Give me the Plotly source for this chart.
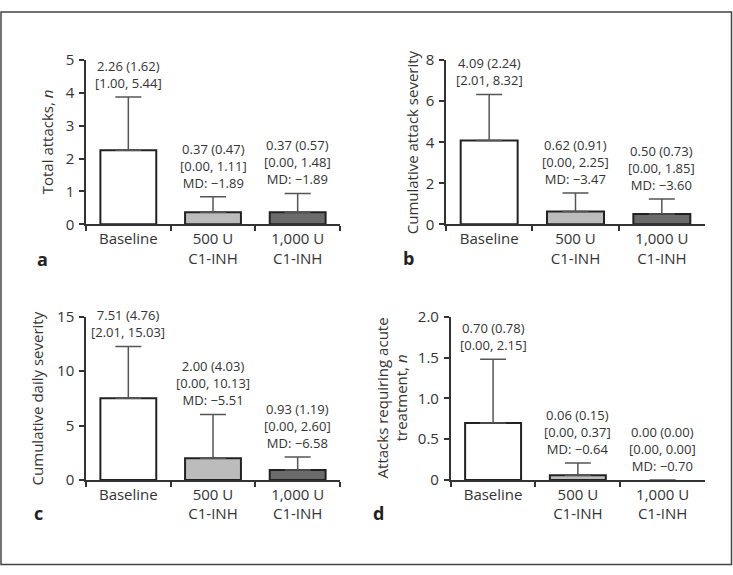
import plotly.graph_objects as go

W, H = 733, 575

categories = ["Baseline", "500 U<br>C1-INH", "1,000 U<br>C1-INH"]

attacks_mean = [2.26, 0.37, 0.37]
attacks_sd = [1.62, 0.47, 0.57]
attacks_range = ["[1.00, 5.44]", "[0.00, 1.11]", "[0.00, 1.48]"]
attacks_md = [None, "−1.89", "−1.89"]

severity_mean = [4.09, 0.62, 0.50]
severity_sd = [2.24, 0.91, 0.73]
severity_range = ["[2.01, 8.32]", "[0.00, 2.25]", "[0.00, 1.85]"]
severity_md = [None, "−3.47", "−3.60"]

daily_mean = [7.51, 2.00, 0.93]
daily_sd = [4.76, 4.03, 1.19]
daily_range = ["[2.01, 15.03]", "[0.00, 10.13]", "[0.00, 2.60]"]
daily_md = [None, "−5.51", "−6.58"]

acute_mean = [0.70, 0.06, 0.00]
acute_sd = [0.78, 0.15, 0.00]
acute_range = ["[0.00, 2.15]", "[0.00, 0.37]", "[0.00, 0.00]"]
acute_md = [None, "−0.64", "−0.70"]

bar_colors = ["#ffffff", "#bcbcbc", "#6b6b6b"]
FONT = "Open Sans"
TXT = "#333333"


def px_x(p):
    return p / W


def px_y(p):
    return (H - p) / H


panels = [
    dict(mean=attacks_mean, sd=attacks_sd, rng=attacks_range, md=attacks_md,
         xd=[px_x(86), px_x(340)], yd=[px_y(221), px_y(51)], yr=[0, 5],
         tickvals=[0, 1, 2, 3, 4, 5], ticktext=["0", "1", "2", "3", "4", "5"],
         title="Total attacks, <i>n</i>", tx=47, letter="a", lx=42, ly=257),
    dict(mean=severity_mean, sd=severity_sd, rng=severity_range, md=severity_md,
         xd=[px_x(446), px_x(705)], yd=[px_y(221), px_y(51)], yr=[0, 8],
         tickvals=[0, 2, 4, 6, 8], ticktext=["0", "2", "4", "6", "8"],
         title="Cumulative attack severity", tx=412, letter="b", lx=408, ly=256),
    dict(mean=daily_mean, sd=daily_sd, rng=daily_range, md=daily_md,
         xd=[px_x(86), px_x(340)], yd=[px_y(486), px_y(316.7)], yr=[0, 15],
         tickvals=[0, 5, 10, 15], ticktext=["0", "5", "10", "15"],
         title="Cumulative daily severity", tx=37, letter="c", lx=38, ly=520),
    dict(mean=acute_mean, sd=acute_sd, rng=acute_range, md=acute_md,
         xd=[px_x(450.7), px_x(705)], yd=[px_y(486), px_y(316.7)], yr=[0, 2],
         tickvals=[0, 0.5, 1.0, 1.5, 2.0], ticktext=["0", "0.5", "1.0", "1.5", "2.0"],
         title="Attacks requiring acute<br>treatment, <i>n</i>", tx=392, letter="d", lx=378, ly=520),
]

fig = go.Figure()
annotations = []
GAP = 3

for i, p in enumerate(panels):
    n = "" if i == 0 else str(i + 1)
    xa, ya = "x" + n, "y" + n
    fig.add_trace(go.Bar(
        x=categories, y=p["mean"], xaxis=xa, yaxis=ya, width=0.66,
        marker=dict(color=bar_colors,
                    line=dict(color="#222222", width=[2 if v > 0 else 0 for v in p["mean"]])),
        error_y=dict(type="data", symmetric=False, array=p["sd"],
                     arrayminus=[0, 0, 0], color="#555555", thickness=1.5, width=13),
        showlegend=False, hoverinfo="skip",
    ))
    axis_common = dict(showline=True, linecolor="#333333", linewidth=1.5,
                       ticks="outside", ticklen=5, tickwidth=1.5, tickcolor="#333333",
                       showgrid=False, zeroline=False,
                       tickfont=dict(family=FONT, size=15, color=TXT))
    fig.update_layout(**{
        ("xaxis" + n): dict(domain=p["xd"], anchor=ya, type="category",
                            range=[-0.5, 2.5], tickson="boundaries", **axis_common),
        ("yaxis" + n): dict(domain=p["yd"], anchor=xa, range=p["yr"],
                            tickvals=p["tickvals"], ticktext=p["ticktext"],
                            ticklabelstandoff=2, **axis_common),
    })
    for j, c in enumerate(categories):
        lines = [f"{p['mean'][j]:.2f} ({p['sd'][j]:.2f})", p["rng"][j]]
        if p["md"][j] is not None:
            lines.append(f"MD: {p['md'][j]}")
        top = p["mean"][j] + p["sd"][j]
        annotations.append(dict(
            x=c, y=top, xref=xa, yref=ya, text="<br>".join(lines), showarrow=False,
            yanchor="bottom", xanchor="center", yshift=GAP,
            font=dict(family=FONT, size=13, color=TXT)))
    yc = (p["yd"][0] + p["yd"][1]) / 2
    annotations.append(dict(
        x=px_x(p["tx"]), y=yc, xref="paper", yref="paper", text=p["title"],
        textangle=-90, showarrow=False, xanchor="center", yanchor="middle",
        font=dict(family=FONT, size=15, color=TXT)))
    annotations.append(dict(
        x=px_x(p["lx"]), y=px_y(p["ly"]), xref="paper", yref="paper",
        text="<b>" + p["letter"] + "</b>", showarrow=False,
        xanchor="center", yanchor="middle",
        font=dict(family=FONT, size=18, color="#222222")))

fig.update_layout(
    width=W, height=H, margin=dict(l=0, r=0, t=0, b=0),
    paper_bgcolor="white", plot_bgcolor="white",
    annotations=annotations,
    shapes=[dict(type="rect", xref="paper", yref="paper",
                 x0=px_x(1), x1=px_x(731.5), y0=px_y(573.5), y1=px_y(1),
                 line=dict(color="#444444", width=1.5))],
)

fig.write_html("out.html", config={"displayModeBar": False},
               post_script="document.body.style.margin='0';document.body.style.overflow='hidden';")
